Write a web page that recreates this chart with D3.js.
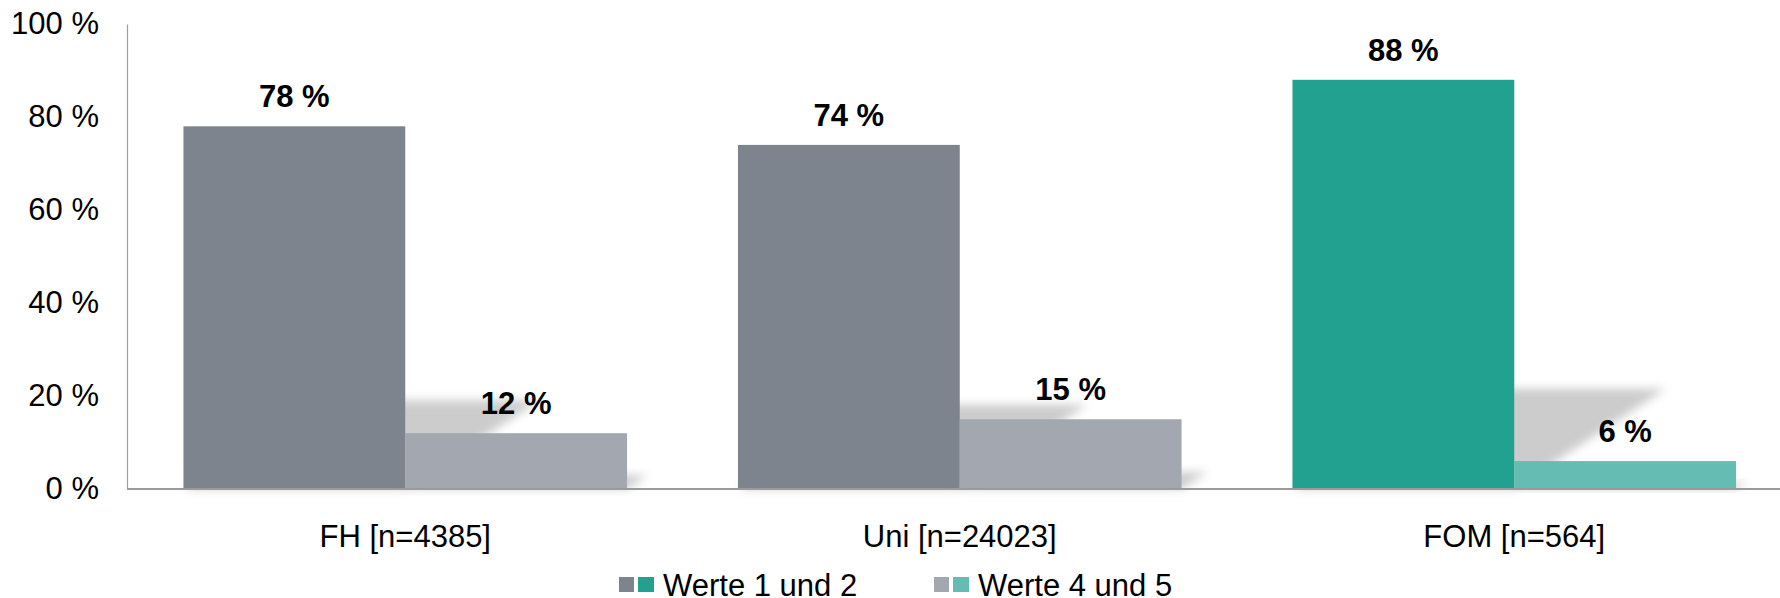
<!DOCTYPE html>
<html>
<head>
<meta charset="utf-8">
<script src="https://cdn.jsdelivr.net/npm/d3@7"></script>
<style>
  html, body { margin: 0; padding: 0; background: #fff; }
  svg { display: block; font-family: "Liberation Sans", Arial, sans-serif; }
</style>
</head>
<body>
<svg id="chart" width="1780" height="598"></svg>
<script>
// Data
const categories = ['FH [n=4385]', 'Uni [n=24023]', 'FOM [n=564]'];
const seriesNames = ['Werte 1 und 2', 'Werte 4 und 5'];
const werte12 = [78, 74, 88];
const werte45 = [12, 15, 6];
const yTicks = [0, 20, 40, 60, 80, 100];

// gray pair for the comparison groups, teal pair for FOM
const grayColors = ['#7e848d', '#a3a7af'];
const tealColors = ['#22a090', '#64bcb2'];
const highlight = 'FOM [n=564]';

const svg = d3.select('#chart');
const width = 1780;
const base = 489;
const fontSize = 31;

const y = d3.scaleLinear().domain([0, 100]).range([base, 24]);
const x = d3.scaleBand().domain(categories).range([128, 1791.5]).padding(0);
const xs = d3.scaleBand().domain(seriesNames)
  .range([x.bandwidth() * 0.1, x.bandwidth() * 0.9]).padding(0);

// Flatten into one record per bar
const bars = [];
categories.forEach((c, i) => {
  [werte12[i], werte45[i]].forEach((v, j) => {
    const colors = c === highlight ? tealColors : grayColors;
    bars.push({ cat: c, series: seriesNames[j], value: v, color: colors[j] });
  });
});

// Soft perspective shadow filter
const defs = svg.append('defs');
defs.append('filter').attr('id', 'shadow-blur')
  .attr('x', '-20%').attr('y', '-50%').attr('width', '140%').attr('height', '200%')
  .append('feGaussianBlur').attr('stdDeviation', 5);

// Shadows: flattened, skewed copy of each bar cast up and to the right
svg.append('g').attr('class', 'shadows')
  .selectAll('polygon')
  .data(bars)
  .join('polygon')
  .attr('points', (d) => {
    const x0 = x(d.cat) + xs(d.series);
    const x1 = x0 + xs.bandwidth();
    const h = base - y(d.value);
    const sh = h * 0.245;
    const sk = h * 0.37;
    return [[x0, base], [x1, base], [x1 + sk, base - sh], [x0 + sk, base - sh]].join(' ');
  })
  .attr('fill', '#000')
  .attr('fill-opacity', 0.2)
  .attr('filter', 'url(#shadow-blur)');

// Bars
svg.append('g').attr('class', 'bars')
  .selectAll('rect')
  .data(bars)
  .join('rect')
  .attr('x', d => x(d.cat) + xs(d.series))
  .attr('y', d => y(d.value))
  .attr('width', xs.bandwidth())
  .attr('height', d => base - y(d.value))
  .attr('fill', d => d.color);

// Value labels
svg.append('g').attr('class', 'values')
  .selectAll('text')
  .data(bars)
  .join('text')
  .attr('x', d => x(d.cat) + xs(d.series) + xs.bandwidth() / 2)
  .attr('y', d => y(d.value) - 19)
  .attr('text-anchor', 'middle')
  .attr('font-size', fontSize)
  .attr('font-weight', 'bold')
  .attr('fill', '#000')
  .text(d => `${d.value} %`);

// Y axis
const yAxis = svg.append('g')
  .attr('transform', 'translate(127,0)')
  .call(d3.axisLeft(y).tickValues(yTicks).tickSize(0).tickPadding(28)
    .tickFormat(d => `${d} %`));
yAxis.select('.domain').attr('stroke', '#a0a0a0').attr('stroke-width', 1.2);
yAxis.selectAll('text')
  .attr('font-size', fontSize)
  .attr('font-family', '"Liberation Sans", Arial, sans-serif')
  .attr('fill', '#000');

// X axis
const xAxis = svg.append('g')
  .attr('transform', `translate(0,${base})`)
  .call(d3.axisBottom(x).tickSize(0).tickPadding(36));
xAxis.select('.domain').remove();
xAxis.append('line')
  .attr('x1', 127).attr('x2', width)
  .attr('stroke', '#9a9a9a').attr('stroke-width', 2);
xAxis.selectAll('.tick text')
  .attr('font-size', fontSize)
  .attr('font-family', '"Liberation Sans", Arial, sans-serif')
  .attr('fill', '#000');

// Legend: each entry shows the gray and teal swatch pair
const legendX = [619, 934];
const legend = svg.append('g').attr('class', 'legend')
  .selectAll('g')
  .data(seriesNames)
  .join('g')
  .attr('transform', (d, i) => `translate(${legendX[i]},577)`);
legend.append('rect')
  .attr('width', 15).attr('height', 15)
  .attr('fill', (d, i) => grayColors[i]);
legend.append('rect')
  .attr('x', 19).attr('width', 16).attr('height', 15)
  .attr('fill', (d, i) => tealColors[i]);
legend.append('text')
  .attr('x', 44).attr('y', 19)
  .attr('font-size', fontSize)
  .attr('fill', '#000')
  .text(d => d);
</script>
</body>
</html>
